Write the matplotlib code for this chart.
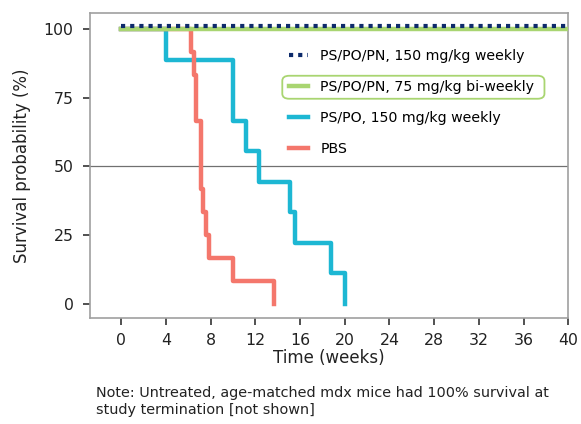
import matplotlib
matplotlib.use("Agg")
import matplotlib.pyplot as plt
import matplotlib.transforms as mtransforms
from matplotlib.patches import FancyBboxPatch

# event times (weeks) and survival (%) after each step
pbs_t = [0, 6.2, 6.5, 6.65, 7.1, 7.35, 7.6, 7.85, 10.0, 13.7]
pbs_s = [100, 91.7, 83.3, 66.7, 41.7, 33.3, 25.0, 16.7, 8.3, 0]

pspo_t = [0, 4.0, 10.0, 11.2, 12.3, 15.1, 15.5, 18.8, 20.0]
pspo_s = [100, 88.9, 66.7, 55.6, 44.4, 33.3, 22.2, 11.1, 0]

pn150_t = [0, 40]
pn150_s = [100, 100]
pn75_t = [0, 40]
pn75_s = [100, 100]

xticks = list(range(0, 41, 4))
yticks = [0, 25, 50, 75, 100]

labels = ["PS/PO/PN, 150 mg/kg weekly", "PS/PO/PN, 75 mg/kg bi-weekly",
          "PS/PO, 150 mg/kg weekly", "PBS"]
note = ("Note: Untreated, age-matched mdx mice had 100% survival at\n"
        "study termination [not shown]")

plt.rcParams['font.family'] = ['DejaVu Sans']
fig = plt.figure(figsize=(5.81, 4.24), dpi=100)
ax = fig.add_axes([0.155, 0.25, 0.823, 0.719])

ax.axhline(50, color="#707070", lw=0.9, zorder=1)

h_pspo, = ax.step(pspo_t, pspo_s, where="post", color="#1DB7D3", lw=3.2,
                  zorder=2, label=labels[2])
h_pbs, = ax.step(pbs_t, pbs_s, where="post", color="#F4776C", lw=3.2,
                 zorder=2, label=labels[3])
h_pn75, = ax.step(pn75_t, pn75_s, where="post", color="#A9D571", lw=3.2,
                  zorder=3, label=labels[1])
# dotted line nudged up a little so both 100% lines stay visible
shift = mtransforms.offset_copy(ax.transData, fig=fig, x=0, y=3.2, units="dots")
h_pn150, = ax.step(pn150_t, pn150_s, where="post", color="#0D2A6B", lw=3.0,
                   ls=(0, (1, 1.2)), zorder=4, transform=shift, label=labels[0])

ax.set_xlim(-2.8, 40)
ax.set_ylim(-5.2, 105.8)
ax.set_xticks(xticks)
ax.set_yticks(yticks)
ax.tick_params(labelsize=11.3, length=5, width=1.2, color="#333333",
               labelcolor="#222222")
ax.tick_params(axis="x", pad=5.5)
ax.tick_params(axis="y", pad=7)
for sp in ax.spines.values():
    sp.set_color("#A0A0A0")
    sp.set_linewidth(1.2)

ax.set_xlabel("Time (weeks)", fontsize=12, color="#222222", labelpad=1)
ax.set_ylabel("Survival probability (%)", fontsize=12, color="#222222",
              labelpad=9)

leg = ax.legend(handles=[h_pn150, h_pn75, h_pspo, h_pbs], loc="upper left",
                bbox_to_anchor=(0.39, 0.925), frameon=False, fontsize=10.2,
                handlelength=1.3, handletextpad=0.9, labelspacing=1.2)

# rounded green frame around the bi-weekly entry
fig.canvas.draw()
r = fig.canvas.get_renderer()
tb = leg.get_texts()[1].get_window_extent(r)
hb = leg.legend_handles[1].get_window_extent(r)
x0, y0 = hb.x0 - 7, tb.y0 - 5
x1, y1 = tb.x1 + 10, tb.y1 + 4
inv = fig.transFigure.inverted()
(fx0, fy0), (fx1, fy1) = inv.transform([(x0, y0), (x1, y1)])
fig.patches.append(FancyBboxPatch((fx0, fy0), fx1 - fx0, fy1 - fy0,
                                  boxstyle="round,pad=0,rounding_size=0.012",
                                  transform=fig.transFigure, fill=False,
                                  ec="#A9D571", lw=1.3))

fig.text(0.165, 0.023, note, fontsize=10.4, color="#222222", linespacing=1.3)

fig.savefig("out.png", dpi=100)
